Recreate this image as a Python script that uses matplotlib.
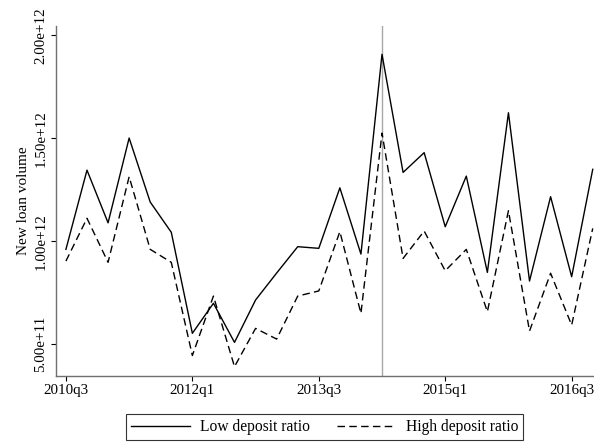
import matplotlib
matplotlib.use("agg")
import matplotlib.pyplot as plt
import numpy as np

# quarters 2010q3 .. 2016q4
quarters = ["2010q3", "2010q4", "2011q1", "2011q2", "2011q3", "2011q4",
            "2012q1", "2012q2", "2012q3", "2012q4", "2013q1", "2013q2",
            "2013q3", "2013q4", "2014q1", "2014q2", "2014q3", "2014q4",
            "2015q1", "2015q2", "2015q3", "2015q4", "2016q1", "2016q2",
            "2016q3", "2016q4"]
low_deposit = [0.960, 1.345, 1.089, 1.501, 1.190, 1.043, 0.552, 0.698, 0.508,
               0.714, 0.845, 0.973, 0.965, 1.259, 0.937, 1.908, 1.334, 1.430,
               1.070, 1.316, 0.848, 1.624, 0.806, 1.216, 0.827, 1.349]
high_deposit = [0.903, 1.111, 0.897, 1.313, 0.960, 0.897, 0.444, 0.733, 0.390,
                0.576, 0.524, 0.733, 0.758, 1.046, 0.649, 1.525, 0.916, 1.049,
                0.856, 0.960, 0.657, 1.148, 0.563, 0.844, 0.592, 1.062]
low_deposit = np.array(low_deposit) * 1e12
high_deposit = np.array(high_deposit) * 1e12
tick_labels = ["2010q3", "2012q1", "2013q3", "2015q1", "2016q3"]
y_ticks = [5e11, 1e12, 1.5e12, 2e12]
event_quarter = "2014q2"

plt.rcParams["font.family"] = ["Liberation Serif", "DejaVu Serif"]
plt.rcParams["lines.scale_dashes"] = False

fig = plt.figure(figsize=(5.94, 4.43), dpi=100)
ax = fig.add_axes([0.0943, 0.1512, 0.9057, 0.7908])

x = np.arange(len(quarters))
ax.axvline(quarters.index(event_quarter), color="#a8a8a8", lw=1.0, zorder=1)
ax.plot(x, low_deposit, color="black", lw=1.0, label="Low deposit ratio")
ax.plot(x, high_deposit, color="black", lw=1.0, linestyle=(0, (5.4, 3.1)),
        label="High deposit ratio")

ax.set_xlim(-0.47, 25.06)
ax.set_ylim(0.3445e12, 2.047e12)
ax.set_xticks([quarters.index(q) for q in tick_labels])
ax.set_xticklabels(tick_labels)
ax.set_yticks(y_ticks)
ax.set_yticklabels(["%.2e" % v for v in y_ticks], rotation=90, va="center")
ax.set_ylabel("New loan volume", fontsize=11, labelpad=3)

for s in ["top", "right"]:
    ax.spines[s].set_visible(False)
for s in ["left", "bottom"]:
    ax.spines[s].set_color("#707070")
    ax.spines[s].set_linewidth(1.0)
ax.tick_params(axis="both", labelsize=10.8, length=3.6, width=0.8, color="black", pad=2.5)

leg = fig.legend(loc="center", bbox_to_anchor=(0.5465, 0.036), ncol=2,
                 fontsize=11.2, frameon=True, fancybox=False, handlelength=3.8,
                 columnspacing=1.7, handletextpad=0.65, borderpad=0.3,
                 borderaxespad=0)
leg.get_frame().set_edgecolor("black")
leg.get_frame().set_linewidth(0.8)

fig.savefig("out.png", dpi=100)
